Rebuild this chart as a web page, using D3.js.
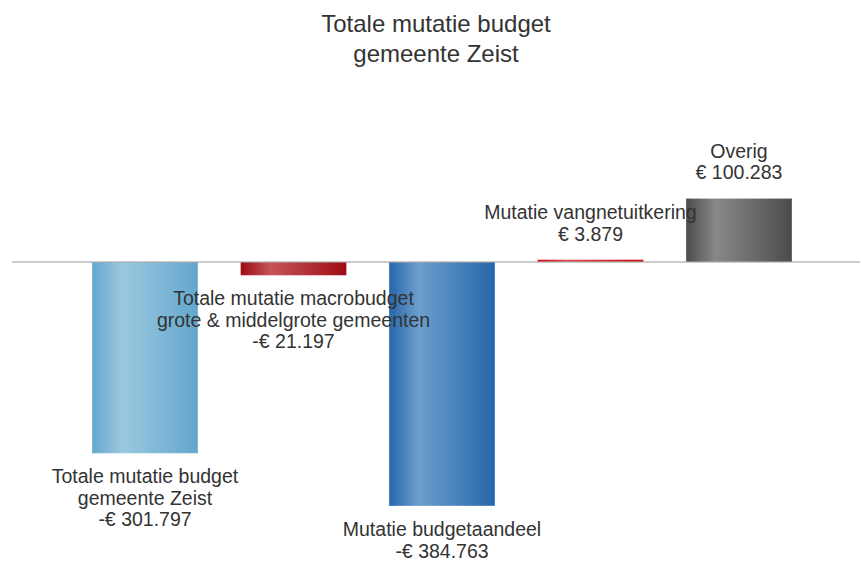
<!DOCTYPE html>
<html>
<head>
    <meta charset="utf-8">
    <title>Totale mutatie budget gemeente Zeist</title>
    <style>
        body { margin: 0; background: #fff; }
        text { font-family: "Liberation Sans", Arial, sans-serif; fill: #333; }
    </style>
</head>
<body>
    <svg></svg>
    <script src="https://d3js.org/d3.v7.min.js"></script>
    <script>
        // data
        const categories = [
            ['Totale mutatie budget', 'gemeente Zeist'],
            ['Totale mutatie macrobudget', 'grote & middelgrote gemeenten'],
            ['Mutatie budgetaandeel'],
            ['Mutatie vangnetuitkering'],
            ['Overig']
        ];
        const values = [-301797, -21197, -384763, 3879, 100283];
        const baseColors = ['#63a7cd', '#9e0b12', '#2566ab', '#cc0b15', '#4b4b4b'];
        const lightColors = ['#9bc8df', '#c4555a', '#6d9ecc', '#e04a50', '#888888'];

        const width = 861;
        const height = 561;

        const svg = d3.select('svg').attr('width', width).attr('height', height);

        const x = d3.scaleBand()
            .domain(d3.range(values.length))
            .range([92, 792])
            .paddingInner(0.286)
            .paddingOuter(0);

        const y = d3.scaleLinear()
            .domain([0, d3.min(values)])
            .range([262, 506]);

        // gradients
        const defs = svg.append('defs');
        values.forEach((v, i) => {
            const g = defs.append('linearGradient')
                .attr('id', 'grad' + i)
                .attr('x1', '0%').attr('x2', '100%').attr('y1', '0%').attr('y2', '0%');
            g.append('stop').attr('offset', '0%').attr('stop-color', baseColors[i]);
            g.append('stop').attr('offset', '28%').attr('stop-color', lightColors[i]);
            g.append('stop').attr('offset', '100%').attr('stop-color', baseColors[i]);
        });

        // title
        const title = svg.append('text')
            .attr('text-anchor', 'middle')
            .style('font-size', '24px');
        title.append('tspan').attr('x', 436).attr('y', 32).text('Totale mutatie budget');
        title.append('tspan').attr('x', 436).attr('y', 62).text('gemeente Zeist');

        // bars
        svg.selectAll('rect.bar').data(values).enter().append('rect')
            .attr('class', 'bar')
            .attr('x', (d, i) => x(i))
            .attr('width', x.bandwidth())
            .attr('y', d => Math.min(y(d), y(0)))
            .attr('height', d => Math.abs(y(d) - y(0)))
            .attr('fill', (d, i) => 'url(#grad' + i + ')')
            .attr('stroke', 'rgba(255,255,255,0.35)')
            .attr('stroke-width', 1);

        // baseline
        svg.append('line')
            .attr('x1', 12).attr('x2', 860)
            .attr('y1', y(0)).attr('y2', y(0))
            .attr('stroke', '#999')
            .attr('stroke-width', 1.2);

        // labels
        const fmt = d => (d < 0 ? '-€ ' : '€ ') + d3.format(',')(Math.abs(d)).replace(/,/g, '.');
        const lineH = 21.5;
        values.forEach((v, i) => {
            const lines = categories[i].concat([fmt(v)]);
            const cx = x(i) + x.bandwidth() / 2;
            let y0;
            if (v < 0) y0 = y(v) + 30;
            else y0 = y(v) - 19 - (lines.length - 1) * lineH;
            const t = svg.append('text')
                .attr('text-anchor', 'middle')
                .style('font-size', '19.5px');
            lines.forEach((l, j) => {
                t.append('tspan').attr('x', cx).attr('y', y0 + j * lineH).text(l);
            });
        });
    </script>
</body>
</html>
